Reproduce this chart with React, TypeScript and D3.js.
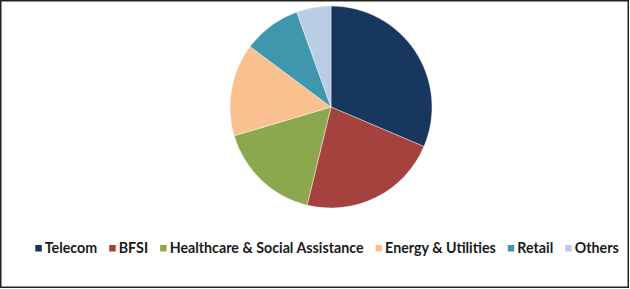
import React, { useEffect, useRef } from "react";
import * as d3 from "d3";

const categories = ["Telecom", "BFSI", "Healthcare & Social Assistance", "Energy & Utilities", "Retail", "Others"];
const values = [31.4, 22.4, 16.6, 14.8, 9.3, 5.5];
const colors = ["#17375E", "#A5423E", "#8CA84F", "#FAC090", "#3F97AE", "#B9CDE5"];

const W = 630;
const H = 289;

export default function App() {
  const ref = useRef<SVGSVGElement>(null);

  useEffect(() => {
    const svg = d3.select(ref.current);
    svg.selectAll("*").remove();

    svg.append("rect")
      .attr("x", 0.75).attr("y", 0.75)
      .attr("width", 627.5).attr("height", 286.5)
      .attr("fill", "#fff").attr("stroke", "#222").attr("stroke-width", 1.5);

    const data = categories.map((c, i) => ({ c, v: values[i], color: colors[i] }));
    const pie = d3.pie<any>().value((d) => d.v).sort(null);
    const arc = d3.arc<any>().innerRadius(0).outerRadius(101);

    const g = svg.append("g").attr("transform", "translate(331,107)");
    g.selectAll("path").data(pie(data)).enter().append("path")
      .attr("d", arc as any)
      .attr("fill", (d: any) => d.data.color)
      .attr("stroke", "#fff").attr("stroke-width", 0.4);

    // legend
    const lg = svg.append("g");
    const items = lg.selectAll("g").data(data).enter().append("g");
    items.append("rect").attr("width", 6.5).attr("height", 6.5).attr("y", 245)
      .attr("fill", (d) => d.color);
    const texts = items.append("text")
      .attr("y", 252.5)
      .attr("font-family", "Lato, sans-serif")
      .attr("font-weight", 700)
      .attr("font-size", 14)
      .attr("fill", "#1a1a1a")
      .text((d) => d.c);
    const measure = () => {
      const w: number[] = [];
      texts.each(function () { w.push((this as SVGTextElement).getComputedTextLength()); });
      return w;
    };
    let widths = measure();
    const targetText = 467;
    const sum = widths.reduce((a, b) => a + b, 0);
    const fs = 14 * targetText / sum;
    texts.attr("font-size", fs);
    widths = measure();
    const sq = 6.5, pad = 3, gap = 12;
    const total = widths.reduce((a, w) => a + sq + pad + w, 0) + gap * (widths.length - 1);
    let x = 327 - total / 2;
    items.each(function (_d, i) {
      const gi = d3.select(this);
      gi.select("rect").attr("x", x);
      gi.select("text").attr("x", x + sq + pad);
      x += sq + pad + widths[i] + gap;
    });
  }, []);

  return (
    <svg ref={ref} width={W} height={H}
      style={{ position: "fixed", left: 0, top: 0, display: "block" }} />
  );
}
